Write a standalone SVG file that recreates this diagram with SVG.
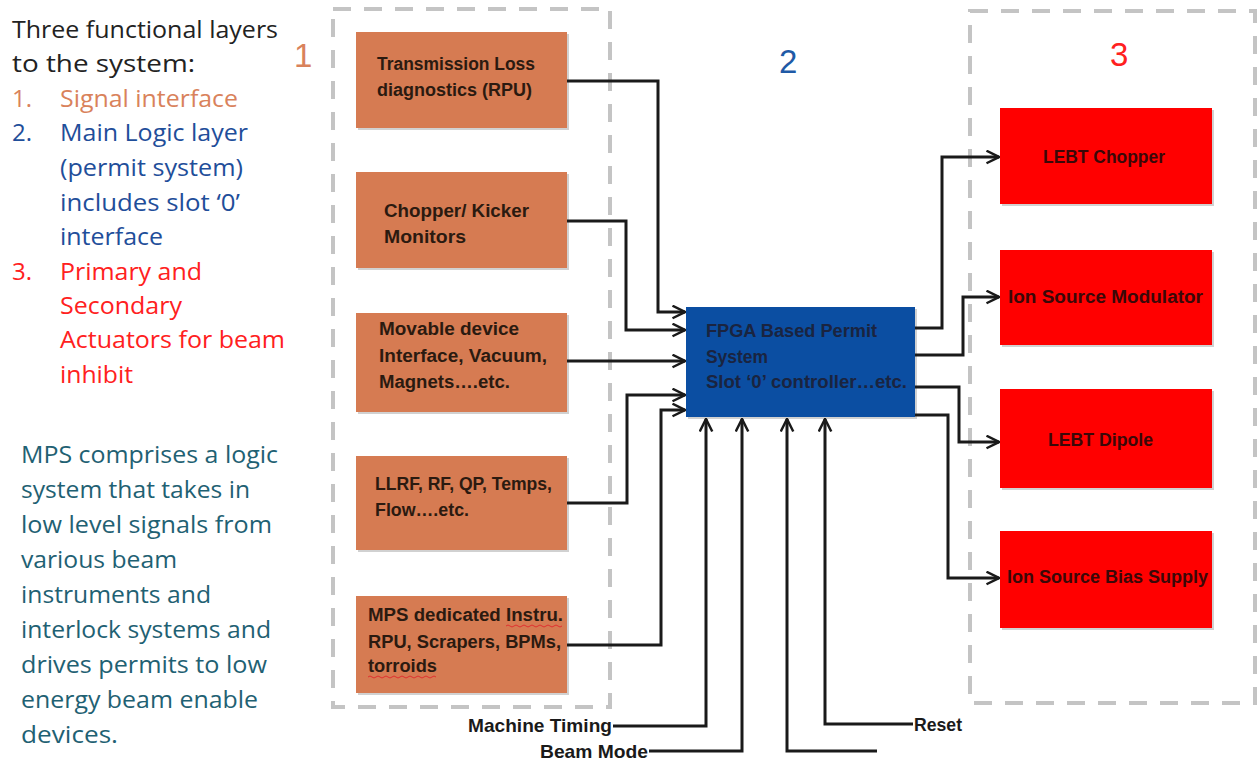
<svg xmlns="http://www.w3.org/2000/svg" width="1257" height="763" viewBox="0 0 1257 763">
<style>
  .side { font-family: "Open Sans", "Liberation Sans", sans-serif; font-size: 24px; font-weight: 500; }
  .bt { font-family: "Liberation Sans", Arial, sans-serif; font-size: 18px; font-weight: bold; fill: #2b1a10; }
  .ft { font-family: "Liberation Sans", Arial, sans-serif; font-size: 18px; font-weight: bold; fill: #1a2440; }
  .rt { font-family: "Liberation Sans", Arial, sans-serif; font-size: 18px; font-weight: bold; fill: #3a0808; }
  .lbl { font-family: "Liberation Sans", Arial, sans-serif; font-size: 19px; font-weight: bold; fill: #1a1a1a; }
  .num { font-family: "Liberation Sans", Arial, sans-serif; font-size: 33px; }
  .dash { fill: none; stroke: #c4c4c4; stroke-width: 4; stroke-dasharray: 18 13; }
  .orange { fill: #D67B52; }
  .red { fill: #FF0000; }
  .blue { fill: #0B4EA2; }
  .shadow { fill: #9a9a9a; opacity: 0.45; }
  .wire { fill: none; stroke: #1a1a1a; stroke-width: 3; }
  .arr { marker-end: url(#chev); }
  .squig { fill: none; stroke: #e03030; stroke-width: 1; }
  .c0 { fill: #222222; }
  .c1 { fill: #D9825B; }
  .c2 { fill: #1F4E9A; }
  .c3 { fill: #FF2020; }
  .c4 { fill: #1F6173; }
</style>
<defs>
  <marker id="chev" viewBox="0 0 12 12" refX="11" refY="6" markerWidth="5" markerHeight="5" orient="auto" markerUnits="strokeWidth">
    <path d="M1,1 L11,6 L1,11" fill="none" stroke="#1a1a1a" stroke-width="2"/>
  </marker>
</defs>

<!-- side text -->
<g id="legend" class="side">
  <text class="c0" x="12" y="38" textLength="266" lengthAdjust="spacingAndGlyphs">Three functional layers</text>
  <text class="c0" x="12" y="72" textLength="183" lengthAdjust="spacingAndGlyphs">to the system:</text>
  <text class="c1" x="12" y="107">1.</text>
  <text class="c1" x="60" y="107" textLength="178" lengthAdjust="spacingAndGlyphs">Signal interface</text>
  <text class="c2" x="12" y="141">2.</text>
  <text class="c2" x="60" y="141" textLength="188" lengthAdjust="spacingAndGlyphs">Main Logic layer</text>
  <text class="c2" x="60" y="176" textLength="183" lengthAdjust="spacingAndGlyphs">(permit system)</text>
  <text class="c2" x="60" y="211" textLength="180" lengthAdjust="spacingAndGlyphs">includes slot ‘0’</text>
  <text class="c2" x="60" y="245" textLength="103" lengthAdjust="spacingAndGlyphs">interface</text>
  <text class="c3" x="12" y="280">3.</text>
  <text class="c3" x="60" y="280" textLength="142" lengthAdjust="spacingAndGlyphs">Primary and</text>
  <text class="c3" x="60" y="314" textLength="122" lengthAdjust="spacingAndGlyphs">Secondary</text>
  <text class="c3" x="60" y="348" textLength="225" lengthAdjust="spacingAndGlyphs">Actuators for beam</text>
  <text class="c3" x="60" y="383" textLength="73" lengthAdjust="spacingAndGlyphs">inhibit</text>
</g>
<g id="description" class="side">
  <text class="c4" x="21" y="463" textLength="257" lengthAdjust="spacingAndGlyphs">MPS comprises a logic</text>
  <text class="c4" x="21" y="498" textLength="229" lengthAdjust="spacingAndGlyphs">system that takes in</text>
  <text class="c4" x="21" y="533" textLength="251" lengthAdjust="spacingAndGlyphs">low level signals from</text>
  <text class="c4" x="21" y="568" textLength="156" lengthAdjust="spacingAndGlyphs">various beam</text>
  <text class="c4" x="21" y="603" textLength="190" lengthAdjust="spacingAndGlyphs">instruments and</text>
  <text class="c4" x="21" y="638" textLength="250" lengthAdjust="spacingAndGlyphs">interlock systems and</text>
  <text class="c4" x="21" y="673" textLength="246" lengthAdjust="spacingAndGlyphs">drives permits to low</text>
  <text class="c4" x="21" y="708" textLength="237" lengthAdjust="spacingAndGlyphs">energy beam enable</text>
  <text class="c4" x="21" y="743" textLength="97" lengthAdjust="spacingAndGlyphs">devices.</text>
</g>

<!-- layer groups -->
<g id="layer1">
  <rect class="dash" x="333" y="9" width="277" height="698"/>
  <text class="num c1" x="294" y="67">1</text>
</g>
<g id="layer2">
  <text class="num" x="779" y="73" fill="#1F5AA6">2</text>
</g>
<g id="layer3">
  <rect class="dash" x="970" y="11" width="285" height="692"/>
  <text class="num c3" x="1110" y="66">3</text>
</g>

<!-- signal interface nodes -->
<g id="n-transmission">
  <rect class="shadow" x="358" y="34" width="211" height="96"/>
  <rect class="orange" x="356" y="32" width="211" height="96"/>
  <text class="bt" x="377" y="70" textLength="158" lengthAdjust="spacingAndGlyphs">Transmission Loss</text>
  <text class="bt" x="377" y="96" textLength="155" lengthAdjust="spacingAndGlyphs">diagnostics (RPU)</text>
</g>
<g id="n-chopper">
  <rect class="shadow" x="358" y="174" width="211" height="96"/>
  <rect class="orange" x="356" y="172" width="211" height="96"/>
  <text class="bt" x="384" y="217" textLength="145" lengthAdjust="spacingAndGlyphs">Chopper/ Kicker</text>
  <text class="bt" x="384" y="243" textLength="82" lengthAdjust="spacingAndGlyphs">Monitors</text>
</g>
<g id="n-movable">
  <rect class="shadow" x="358" y="315" width="211" height="99"/>
  <rect class="orange" x="356" y="313" width="211" height="99"/>
  <text class="bt" x="379" y="335" textLength="140" lengthAdjust="spacingAndGlyphs">Movable device</text>
  <text class="bt" x="379" y="362" textLength="168" lengthAdjust="spacingAndGlyphs">Interface, Vacuum,</text>
  <text class="bt" x="379" y="388" textLength="131" lengthAdjust="spacingAndGlyphs">Magnets….etc.</text>
</g>
<g id="n-llrf">
  <rect class="shadow" x="358" y="458" width="211" height="94"/>
  <rect class="orange" x="356" y="456" width="211" height="94"/>
  <text class="bt" x="375" y="490" textLength="177" lengthAdjust="spacingAndGlyphs">LLRF, RF, QP, Temps,</text>
  <text class="bt" x="375" y="516" textLength="94" lengthAdjust="spacingAndGlyphs">Flow….etc.</text>
</g>
<g id="n-mps">
  <rect class="shadow" x="358" y="598" width="211" height="97"/>
  <rect class="orange" x="356" y="596" width="211" height="97"/>
  <text class="bt" x="368" y="621" textLength="195" lengthAdjust="spacingAndGlyphs">MPS dedicated Instru.</text>
  <text class="bt" x="368" y="648" textLength="193" lengthAdjust="spacingAndGlyphs">RPU, Scrapers, BPMs,</text>
  <text class="bt" x="368" y="672" textLength="69" lengthAdjust="spacingAndGlyphs">torroids</text>
  <path class="squig" d="M506,626 q2,-2 4,0 t4,0 t4,0 t4,0 t4,0 t4,0 t4,0 t4,0 t4,0 t4,0 t4,0 t4,0 t4,0 t4,0"/>
  <path class="squig" d="M368,677 q2,-2 4,0 t4,0 t4,0 t4,0 t4,0 t4,0 t4,0 t4,0 t4,0 t4,0 t4,0 t4,0 t4,0 t4,0 t4,0 t4,0 t4,0"/>
</g>

<!-- main logic -->
<g id="n-fpga">
  <rect class="shadow" x="688" y="309" width="229" height="110"/>
  <rect class="blue" x="686" y="307" width="229" height="110"/>
  <text class="ft" x="706" y="337" textLength="171" lengthAdjust="spacingAndGlyphs">FPGA Based Permit</text>
  <text class="ft" x="706" y="363" textLength="62" lengthAdjust="spacingAndGlyphs">System</text>
  <text class="ft" x="706" y="388" textLength="201" lengthAdjust="spacingAndGlyphs">Slot ‘0’ controller…etc.</text>
</g>

<!-- actuators -->
<g id="n-lebt-chopper">
  <rect class="shadow" x="1002" y="110" width="212" height="96"/>
  <rect class="red" x="1000" y="108" width="212" height="96"/>
  <text class="rt" x="1043" y="163" textLength="122" lengthAdjust="spacingAndGlyphs">LEBT Chopper</text>
</g>
<g id="n-ion-mod">
  <rect class="shadow" x="1002" y="252" width="212" height="95"/>
  <rect class="red" x="1000" y="250" width="212" height="95"/>
  <text class="rt" x="1008" y="303" textLength="195" lengthAdjust="spacingAndGlyphs">Ion Source Modulator</text>
</g>
<g id="n-lebt-dipole">
  <rect class="shadow" x="1002" y="391" width="212" height="99"/>
  <rect class="red" x="1000" y="389" width="212" height="99"/>
  <text class="rt" x="1048" y="446" textLength="105" lengthAdjust="spacingAndGlyphs">LEBT Dipole</text>
</g>
<g id="n-ion-bias">
  <rect class="shadow" x="1002" y="533" width="212" height="97"/>
  <rect class="red" x="1000" y="531" width="212" height="97"/>
  <text class="rt" x="1007" y="583" textLength="201" lengthAdjust="spacingAndGlyphs">Ion Source Bias Supply</text>
</g>

<!-- input labels -->
<g id="inputs">
  <text class="lbl" x="468" y="732" textLength="144" lengthAdjust="spacingAndGlyphs">Machine Timing</text>
  <text class="lbl" x="540" y="758" textLength="108" lengthAdjust="spacingAndGlyphs">Beam Mode</text>
  <text class="lbl" x="914" y="731" textLength="48" lengthAdjust="spacingAndGlyphs">Reset</text>
</g>

<!-- connectors -->
<g id="connectors">
  <path class="wire arr" d="M567,81 H658 V312 H685"/>
  <path class="wire arr" d="M567,221 H626 V330 H685"/>
  <path class="wire arr" d="M567,361 H685"/>
  <path class="wire arr" d="M567,503 H627 V395 H685"/>
  <path class="wire arr" d="M567,645 H661 V410 H685"/>

  <path class="wire arr" d="M613,726 H706 V419"/>
  <path class="wire arr" d="M649,751 H742 V419"/>
  <path class="wire arr" d="M877,751 H787 V419"/>
  <path class="wire arr" d="M913,724 H825 V419"/>

  <path class="wire arr" d="M915,328 H942 V157 H999"/>
  <path class="wire arr" d="M915,355 H963 V297 H999"/>
  <path class="wire arr" d="M915,387 H959 V442 H999"/>
  <path class="wire arr" d="M915,415 H948 V578 H999"/>
</g>
</svg>
